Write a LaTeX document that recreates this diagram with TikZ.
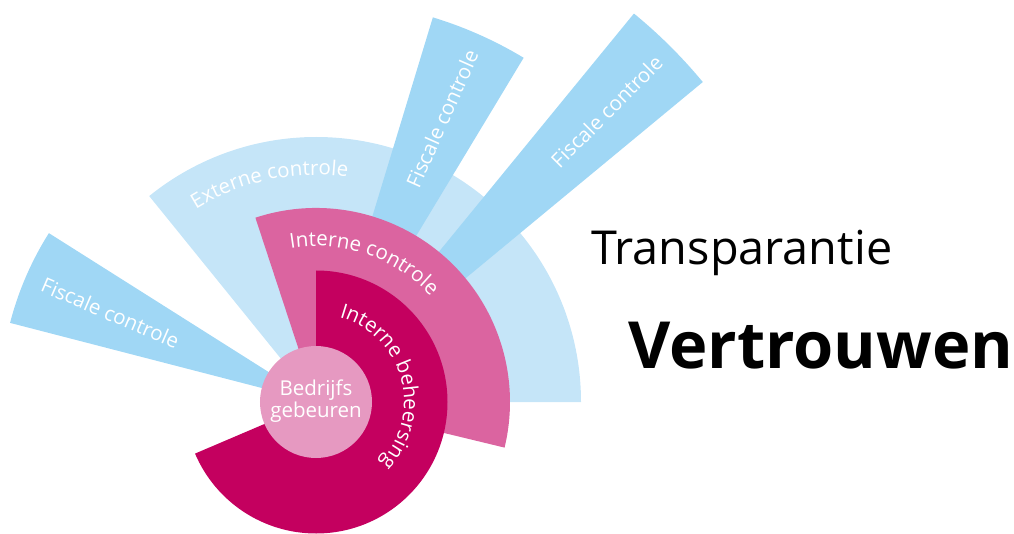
\documentclass[tikz,border=0pt]{standalone}
\usepackage{fontspec}
\setmainfont{Open Sans}
\usetikzlibrary{decorations.text}
\definecolor{extblue}{HTML}{C5E5F8}
\definecolor{fisblue}{HTML}{A0D7F5}
\definecolor{intpink}{HTML}{DB64A0}
\definecolor{behmag}{HTML}{C4005F}
\definecolor{bedpink}{HTML}{E699C1}
\newcommand\curvefont{\fontsize{20.5pt}{20.5pt}\selectfont\color{white}}
\tikzset{
  sector/.style={draw=none},
  curvetext/.style={decorate, decoration={text along path, text align=center, text={|\curvefont|#1}}},
  fistext/.style={text=white, font=\fontsize{20.5pt}{20.5pt}\selectfont, inner sep=0pt},
  bigtext/.style={text=black, inner sep=0pt, anchor=base west}
}
\begin{document}
\begin{tikzpicture}[x=1pt,y=1pt]
\useasboundingbox (-316,-131) rectangle (698,402);
% Externe controle
\fill[extblue] (0,0) -- (0:265) arc[start angle=0, end angle=129, radius=265] -- cycle;
% Fiscale controle wedges
\fill[fisblue] (0,0) -- (147.7:316) arc[start angle=147.7, end angle=165.5, radius=316] -- cycle;
\fill[fisblue] (0,0) -- (58.9:402) arc[start angle=58.9, end angle=73.1, radius=402] -- cycle;
\fill[fisblue] (0,0) -- (39.6:502) arc[start angle=39.6, end angle=50.7, radius=502] -- cycle;
% Interne controle
\fill[intpink] (0,0) -- (108.2:194) arc[start angle=108.2, end angle=-13.6, radius=194] -- cycle;
% Interne beheersing
\fill[behmag] (0,0) -- (90:131.5) arc[start angle=90, end angle=-156.9, radius=131.5] -- cycle;
% Bedrijfs gebeuren
\fill[bedpink] (0,0) circle[radius=56];
\node[fistext, anchor=base] (bed) at (0,7) {Bedrijfs};
\node[fistext, anchor=base] (geb) at (0,-15) {gebeuren};
% curved labels
\path[curvetext={Externe controle}] (132:227) arc[start angle=132, end angle=72, radius=227];
\path[curvetext={Interne controle}] (106:156) arc[start angle=106, end angle=36, radius=156];
\path[curvetext={Interne beheersing}] (85:88) arc[start angle=85, end angle=-54, radius=88];
% fiscal labels
\node[fistext, rotate=-23.3] (f1) at (156.6:224) {Fiscale controle};
\node[fistext, rotate=66] (f2) at (66:310) {Fiscale controle};
\node[fistext, rotate=45] (f3) at (45:411) {Fiscale controle};
% right texts
\node[bigtext, font=\fontsize{46.8pt}{46.8pt}\selectfont] (transp) at (275,137) {Transparantie};
\node[bigtext, font=\bfseries\fontsize{65pt}{65pt}\selectfont] (vertr) at (312,34) {Vertrouwen};
\end{tikzpicture}
\end{document}
